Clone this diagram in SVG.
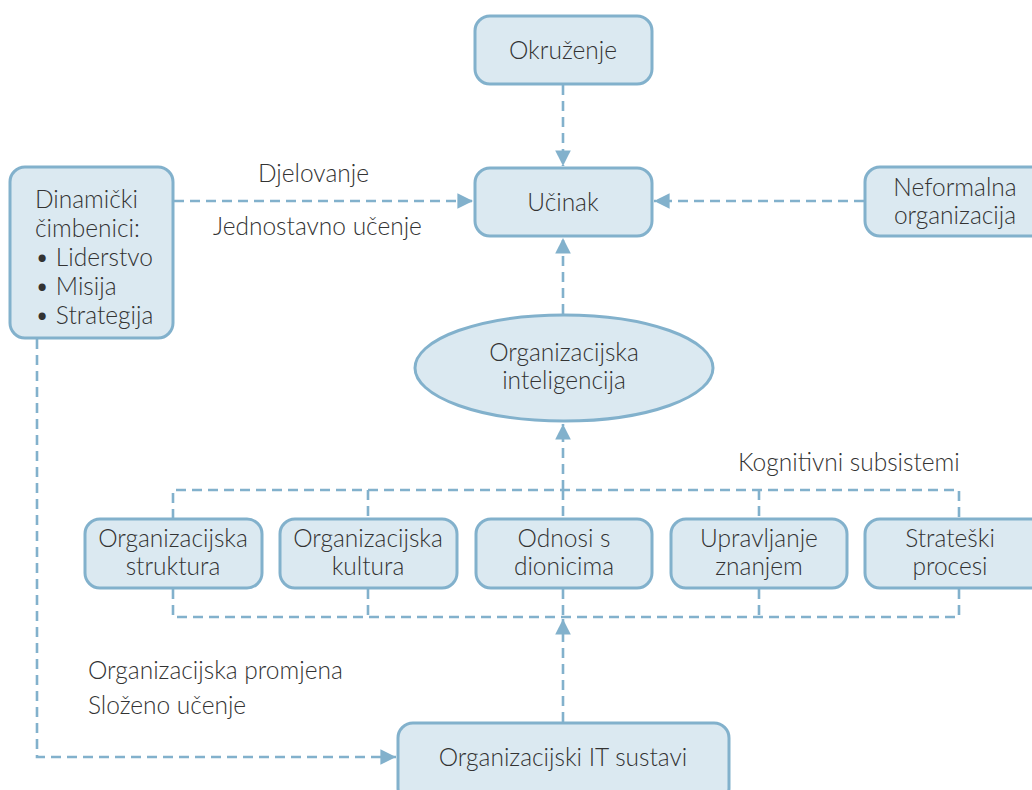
<svg xmlns="http://www.w3.org/2000/svg" width="1032" height="790" viewBox="0 0 1032 790">
<defs>
<style>
.box{fill:#dbe9f1;stroke:#82b1cc;stroke-width:3}
.ln{fill:none;stroke:#82b1cc;stroke-width:2.6;stroke-dasharray:10 6}
.t{font-family:Lato,"Open Sans","DejaVu Sans",sans-serif;font-size:24.5px;fill:#333;font-weight:300}
.c{text-anchor:middle}
</style>
<marker id="ah" viewBox="0 0 10 10" refX="10" refY="5" markerWidth="6" markerHeight="6" markerUnits="strokeWidth" orient="auto">
<path d="M0,0 L10,5 L0,10 Z" fill="#82b1cc"/>
</marker>
</defs>
<rect width="1032" height="790" fill="#fff"/>
<g id="connectors">
<path class="ln" d="M563,85 V166" marker-end="url(#ah)"/>
<path class="ln" d="M174,201 H473" marker-end="url(#ah)"/>
<path class="ln" d="M864,201 H654" marker-end="url(#ah)"/>
<path class="ln" d="M563,314 V238" marker-end="url(#ah)"/>
<path class="ln" d="M563,490 V424" marker-end="url(#ah)"/>
<path class="ln" d="M173,519 V490 H959 V519 M368,490 V519 M563,490 V519 M759,490 V519"/>
<path class="ln" d="M173,589 V617 H959 V589 M368,589 V617 M563,589 V617 M759,589 V617"/>
<path class="ln" d="M563,722 V619" marker-end="url(#ah)"/>
<path class="ln" d="M37,339 V757 H396" marker-end="url(#ah)"/>
</g>
<g id="okruzenje"><rect class="box" x="475" y="16" width="177" height="68" rx="15"/><text class="t c" x="563" y="59">Okruženje</text></g>
<g id="ucinak"><rect class="box" x="475" y="168" width="177" height="68" rx="15"/><text class="t c" x="563" y="211">Učinak</text></g>
<g id="dinamicki"><rect class="box" x="10" y="167" width="163" height="171" rx="15"/>
<text class="t" x="35" y="208">Dinamički</text>
<text class="t" x="35" y="237">čimbenici:</text>
<text class="t" x="35" y="266">• Liderstvo</text>
<text class="t" x="35" y="295">• Misija</text>
<text class="t" x="35" y="324">• Strategija</text></g>
<g id="neformalna"><rect class="box" x="865" y="167" width="190" height="69" rx="15"/><text class="t c" x="955" y="196">Neformalna</text><text class="t c" x="955" y="224">organizacija</text></g>
<g id="inteligencija"><ellipse class="box" cx="564" cy="368" rx="149" ry="53"/><text class="t c" x="564" y="361">Organizacijska</text><text class="t c" x="564" y="389">inteligencija</text></g>
<g id="struktura"><rect class="box" x="85" y="519" width="177" height="69" rx="15"/><text class="t c" x="173" y="547">Organizacijska</text><text class="t c" x="173" y="575">struktura</text></g>
<g id="kultura"><rect class="box" x="280" y="519" width="177" height="69" rx="15"/><text class="t c" x="368" y="547">Organizacijska</text><text class="t c" x="368" y="575">kultura</text></g>
<g id="odnosi"><rect class="box" x="476" y="519" width="176" height="69" rx="15"/><text class="t c" x="564" y="547">Odnosi s</text><text class="t c" x="564" y="575">dionicima</text></g>
<g id="znanje"><rect class="box" x="671" y="519" width="176" height="69" rx="15"/><text class="t c" x="759" y="547">Upravljanje</text><text class="t c" x="759" y="575">znanjem</text></g>
<g id="strateski"><rect class="box" x="865" y="519" width="190" height="69" rx="15"/><text class="t c" x="950" y="547">Strateški</text><text class="t c" x="950" y="575">procesi</text></g>
<g id="it"><rect class="box" x="398" y="723" width="331" height="80" rx="15"/><text class="t c" x="563" y="766">Organizacijski IT sustavi</text></g>
<g id="labels">
<text class="t" x="258" y="182">Djelovanje</text>
<text class="t" x="213" y="235">Jednostavno učenje</text>
<text class="t" x="738" y="471">Kognitivni subsistemi</text>
<text class="t" x="88" y="679">Organizacijska promjena</text>
<text class="t" x="88" y="714">Složeno učenje</text>
</g>
</svg>
